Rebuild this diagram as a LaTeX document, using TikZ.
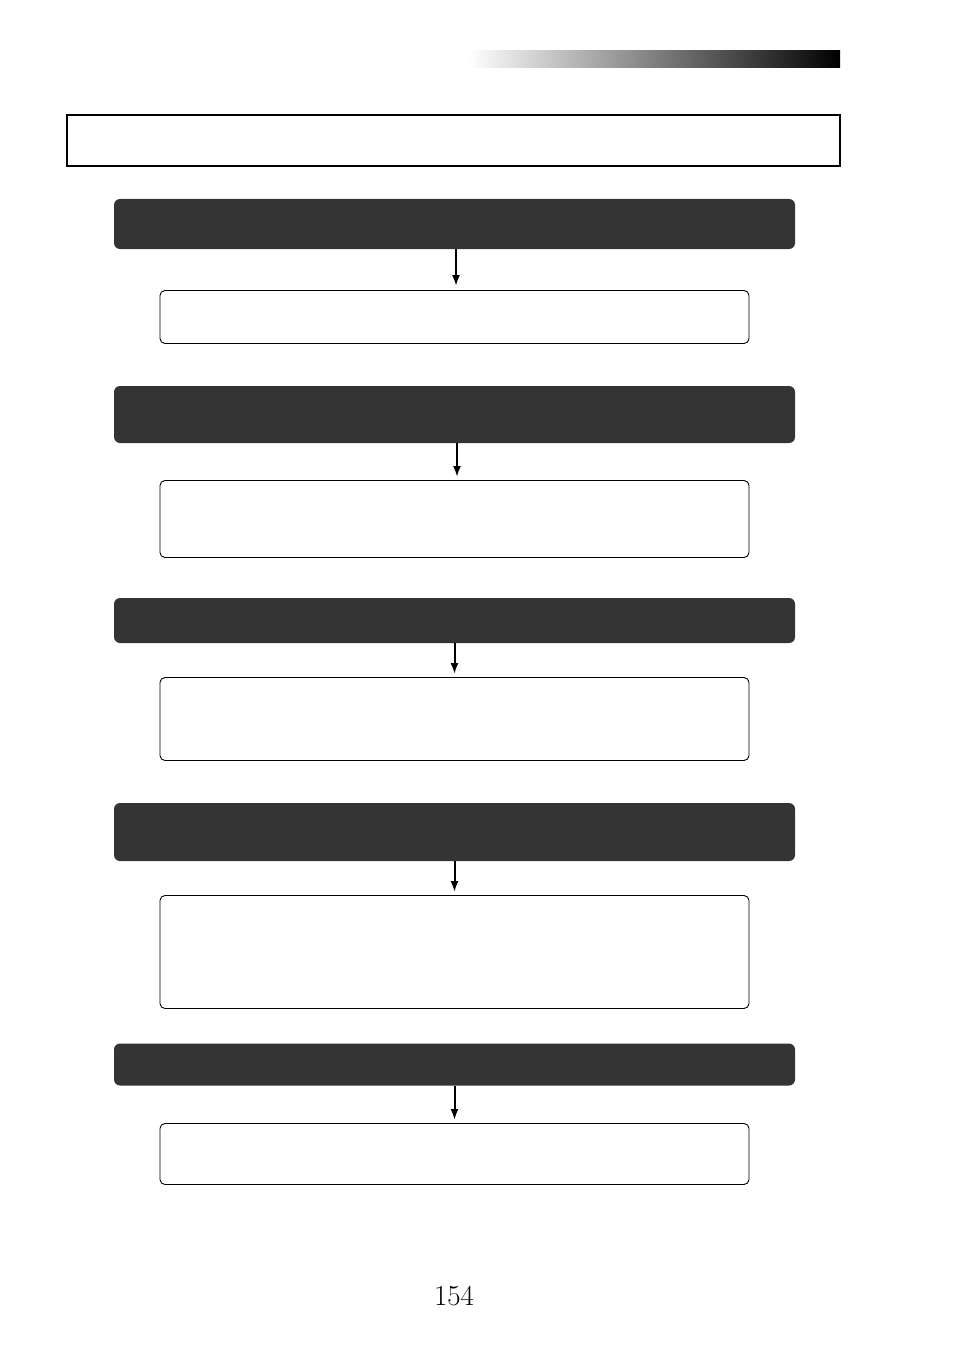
\documentclass[tikz,border=0pt]{standalone}
\usetikzlibrary{arrows.meta,shadings}
\definecolor{darkbox}{HTML}{343434}
\begin{document}
\begin{tikzpicture}[x=1pt,y=-1pt,
  darkstep/.style={fill=darkbox,draw=none,rounded corners=6pt,minimum width=681pt,inner sep=0pt},
  whitestep/.style={draw=black,line width=0.9pt,fill=white,rounded corners=5pt,minimum width=589pt,inner sep=0pt},
  flowarrow/.style={line width=2pt,-{Latex[length=11pt,width=8pt]}}]
\useasboundingbox (0,0) rectangle (954,1351);
% gradient bar
\shade[left color=white,right color=black,draw=none] (468,51) rectangle (840,68);
% title box
\node[draw=black,line width=2pt,minimum width=773pt,minimum height=51pt,inner sep=0pt] (title) at (453.5,140.5) {};
% steps
\node[darkstep,minimum height=50pt] (d1) at (454.5,224) {};
\node[whitestep,minimum height=53pt] (w1) at (454.5,317) {};
\node[darkstep,minimum height=57pt] (d2) at (454.5,414.5) {};
\node[whitestep,minimum height=77pt] (w2) at (454.5,519) {};
\node[darkstep,minimum height=45pt] (d3) at (454.5,620.5) {};
\node[whitestep,minimum height=83pt] (w3) at (454.5,719) {};
\node[darkstep,minimum height=58pt] (d4) at (454.5,832) {};
\node[whitestep,minimum height=113pt] (w4) at (454.5,952) {};
\node[darkstep,minimum height=42pt] (d5) at (454.5,1064.5) {};
\node[whitestep,minimum height=61pt] (w5) at (454.5,1154) {};
\draw[flowarrow] ([xshift=1.5pt]d1.south) -- ([xshift=1.5pt,yshift=4pt]w1.north);
\draw[flowarrow] ([xshift=2.5pt]d2.south) -- ([xshift=2.5pt,yshift=3pt]w2.north);
\draw[flowarrow] (d3.south) -- ([yshift=3pt]w3.north);
\draw[flowarrow] (d4.south) -- ([yshift=3pt]w4.north);
\draw[flowarrow] (d5.south) -- ([yshift=3pt]w5.north);
\node[font=\fontsize{29}{32}\selectfont] (page) at (454,1296) {154};
\end{tikzpicture}
\end{document}
